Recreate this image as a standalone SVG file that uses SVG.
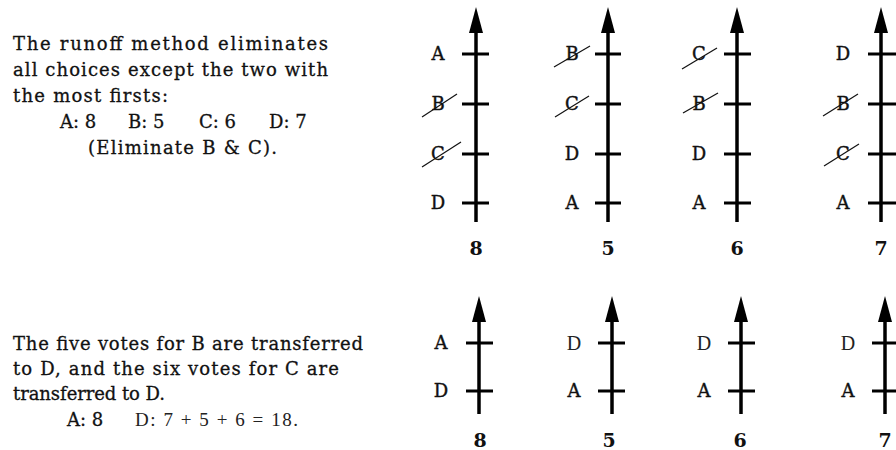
<svg xmlns="http://www.w3.org/2000/svg" xmlns:xlink="http://www.w3.org/1999/xlink" width="896" height="450" viewBox="0 0 896 450">
<style>
.t{font-family:"DejaVu Serif","Liberation Serif",serif;font-size:18px;fill:#111;stroke:#111;stroke-width:0.3}
.lab{font-family:"DejaVu Serif","Liberation Serif",serif;font-size:18px;fill:#111;stroke:#111;stroke-width:0.4;text-anchor:middle}
.thin{font-family:"Liberation Serif","Times New Roman",serif;font-size:19px;fill:#222}
.thinlab{font-family:"Liberation Serif","Times New Roman",serif;font-size:20px;fill:#222;text-anchor:middle}
.num{font-family:"DejaVu Serif","Liberation Serif",serif;font-size:19px;font-weight:bold;fill:#111;text-anchor:middle}
.axis{stroke:#000;stroke-width:3.5;fill:none}
.tick{stroke:#000;stroke-width:3;fill:none}
.slash{stroke:#111;stroke-width:1.2;fill:none}
</style>
<defs>
<path id="head" d="M0,0 L-7,26 L7,26 Z" fill="#000"/>
</defs>
<rect width="896" height="450" fill="#fff"/>
<g id="text-top">
<text class="t" x="13" y="50" textLength="315">The runoff method eliminates</text>
<text class="t" x="13" y="76" textLength="315">all choices except the two with</text>
<text class="t" x="13" y="102" textLength="155">the most firsts:</text>
<text class="t" x="60" y="128">A: 8</text>
<text class="t" x="128" y="128">B: 5</text>
<text class="t" x="199" y="128">C: 6</text>
<text class="t" x="269" y="128">D: 7</text>
<text class="t" x="88" y="154" textLength="189">(Eliminate B &amp; C).</text>
</g>
<g id="text-bottom">
<text class="t" x="13" y="350" textLength="350">The five votes for B are transferred</text>
<text class="t" x="13" y="375" textLength="326">to D, and the six votes for C are</text>
<text class="t" x="13" y="400" textLength="152">transferred to D.</text>
<text class="t" x="67" y="426">A: 8</text>
<text class="thin" x="135" y="426" textLength="163">D: 7 + 5 + 6 = 18.</text>
</g>
<g id="connectors">
<line class="axis" x1="476" y1="222" x2="476" y2="28"/>
<line class="axis" x1="608" y1="222" x2="608" y2="28"/>
<line class="axis" x1="737" y1="222" x2="737" y2="28"/>
<line class="axis" x1="881" y1="222" x2="881" y2="28"/>
<use xlink:href="#head" x="476" y="7"/>
<use xlink:href="#head" x="608" y="7"/>
<use xlink:href="#head" x="737" y="7"/>
<use xlink:href="#head" x="881" y="7"/>
<line class="axis" x1="479" y1="414" x2="479" y2="318"/>
<line class="axis" x1="612" y1="414" x2="612" y2="318"/>
<line class="axis" x1="741" y1="414" x2="741" y2="318"/>
<line class="axis" x1="885" y1="414" x2="885" y2="318"/>
<use xlink:href="#head" x="479" y="296"/>
<use xlink:href="#head" x="612" y="296"/>
<use xlink:href="#head" x="741" y="296"/>
<use xlink:href="#head" x="885" y="296"/>
</g>
<g id="ballot-8">
<line class="tick" x1="462" y1="54" x2="489" y2="54"/>
<line class="tick" x1="462" y1="104" x2="489" y2="104"/>
<line class="tick" x1="462" y1="154" x2="489" y2="154"/>
<line class="tick" x1="462" y1="203" x2="489" y2="203"/>
<text class="lab" x="438" y="60">A</text>
<text class="lab" x="438" y="110">B</text>
<line class="slash" x1="422" y1="117" x2="457" y2="94"/>
<text class="lab" x="438" y="160">C</text>
<line class="slash" x1="422" y1="167" x2="461" y2="142"/>
<text class="lab" x="438" y="209">D</text>
<text class="num" x="476" y="255">8</text>
</g>
<g id="ballot-5">
<line class="tick" x1="595" y1="54" x2="621" y2="54"/>
<line class="tick" x1="595" y1="104" x2="621" y2="104"/>
<line class="tick" x1="595" y1="154" x2="621" y2="154"/>
<line class="tick" x1="595" y1="203" x2="621" y2="203"/>
<text class="lab" x="572" y="60">B</text>
<line class="slash" x1="554" y1="67" x2="590" y2="46"/>
<text class="lab" x="572" y="110">C</text>
<line class="slash" x1="555" y1="117" x2="589" y2="96"/>
<text class="lab" x="572" y="160">D</text>
<text class="lab" x="572" y="209">A</text>
<text class="num" x="608" y="255">5</text>
</g>
<g id="ballot-6">
<line class="tick" x1="724" y1="54" x2="751" y2="54"/>
<line class="tick" x1="724" y1="104" x2="751" y2="104"/>
<line class="tick" x1="724" y1="154" x2="751" y2="154"/>
<line class="tick" x1="724" y1="203" x2="751" y2="203"/>
<text class="lab" x="699" y="60">C</text>
<line class="slash" x1="682" y1="69" x2="717" y2="48"/>
<text class="lab" x="699" y="110">B</text>
<line class="slash" x1="683" y1="113" x2="718" y2="93"/>
<text class="lab" x="699" y="160">D</text>
<text class="lab" x="699" y="209">A</text>
<text class="num" x="737" y="255">6</text>
</g>
<g id="ballot-7">
<line class="tick" x1="868" y1="54" x2="896" y2="54"/>
<line class="tick" x1="868" y1="104" x2="896" y2="104"/>
<line class="tick" x1="868" y1="154" x2="896" y2="154"/>
<line class="tick" x1="868" y1="203" x2="896" y2="203"/>
<text class="lab" x="843" y="60">D</text>
<text class="lab" x="843" y="110">B</text>
<line class="slash" x1="823" y1="116" x2="858" y2="94"/>
<text class="lab" x="843" y="160">C</text>
<line class="slash" x1="824" y1="166" x2="859" y2="144"/>
<text class="lab" x="843" y="209">A</text>
<text class="num" x="881" y="255">7</text>
</g>
<g id="runoff-8">
<line class="tick" x1="466" y1="343" x2="493" y2="343"/>
<line class="tick" x1="466" y1="391" x2="493" y2="391"/>
<text class="lab" x="441" y="349">A</text>
<text class="lab" x="441" y="397">D</text>
<text class="num" x="480" y="447">8</text>
</g>
<g id="runoff-5">
<line class="tick" x1="598" y1="343" x2="625" y2="343"/>
<line class="tick" x1="598" y1="391" x2="625" y2="391"/>
<text class="thinlab" x="574" y="350">D</text>
<text class="lab" x="574" y="397">A</text>
<text class="num" x="609" y="447">5</text>
</g>
<g id="runoff-6">
<line class="tick" x1="728" y1="343" x2="755" y2="343"/>
<line class="tick" x1="728" y1="391" x2="755" y2="391"/>
<text class="thinlab" x="704" y="350">D</text>
<text class="lab" x="704" y="397">A</text>
<text class="num" x="740" y="447">6</text>
</g>
<g id="runoff-7">
<line class="tick" x1="872" y1="343" x2="896" y2="343"/>
<line class="tick" x1="872" y1="391" x2="896" y2="391"/>
<text class="thinlab" x="848" y="350">D</text>
<text class="lab" x="848" y="397">A</text>
<text class="num" x="885" y="447">7</text>
</g>
</svg>
